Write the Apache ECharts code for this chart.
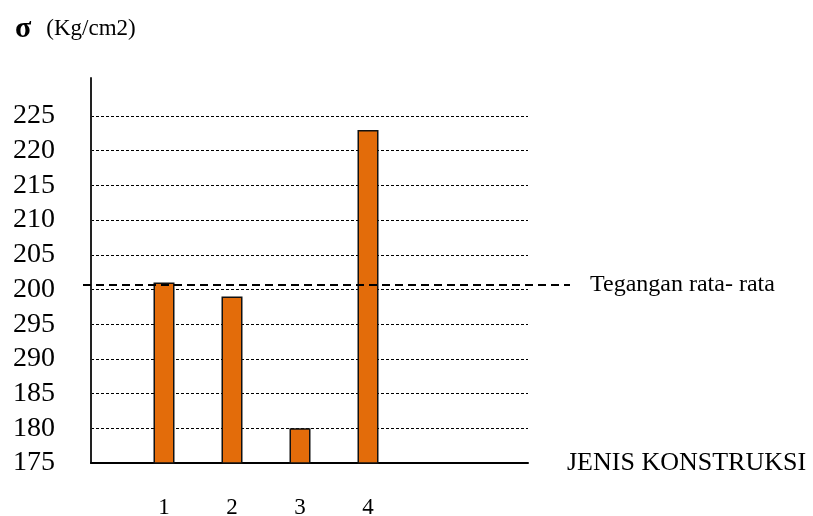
<!DOCTYPE html>
<html>
<head>
<meta charset="utf-8">
<script src="https://cdn.jsdelivr.net/npm/echarts@6/dist/echarts.min.js"></script>
<style>
html,body{margin:0;padding:0;background:#fff;}
#chart{width:813px;height:516px;}
</style>
</head>
<body>
<div id="chart"></div>
<script>
// ---- data ----
const categories = ['1', '2', '3', '4'];
const values = [201, 199, 180, 223];
const tickLabels = ['175', '180', '185', '290', '295', '200', '205', '210', '215', '220', '225'];
const yMin = 175, yMax = 225, yStep = 5;
const avgLabel = 'Tegangan rata- rata';
const xName = 'JENIS KONSTRUKSI';
const unitTitle = '(Kg/cm2)';

const avg = values.reduce((a, b) => a + b, 0) / values.length;

const serif = "'Liberation Serif', 'Times New Roman', serif";
const chart = echarts.init(document.getElementById('chart'), null, {renderer: 'canvas'});

const gTop = 116, gH = 347;

chart.setOption({
  backgroundColor: '#fff',
  animation: false,
  title: {
    left: 10, top: 9,
    text: '{s|σ}   {u|' + unitTitle + '}',
    textStyle: {
      fontWeight: 'normal',
      rich: {
        s: {fontFamily: serif, fontSize: 30, color: '#000', fontWeight: 'bold', verticalAlign: 'middle'},
        u: {fontFamily: serif, fontSize: 23, color: '#000', fontWeight: 'normal', verticalAlign: 'middle'}
      }
    }
  },
  grid: [
    {left: 91, top: gTop, width: 437, height: gH, outerBoundsMode: 'none', containLabel: false},
    {left: 91, top: 78, width: 437, height: gTop + gH - 78, outerBoundsMode: 'none', containLabel: false},
    {left: 130, top: gTop, width: 272, height: gH, outerBoundsMode: 'none', containLabel: false},
    {left: 83, top: gTop, width: 487, height: gH, outerBoundsMode: 'none', containLabel: false}
  ],
  xAxis: [
    {gridIndex: 0, type: 'value', min: 0, max: 1,
      axisLine: {show: true, onZero: false, lineStyle: {color: '#000', width: 2}},
      axisTick: {show: false}, axisLabel: {show: false}, splitLine: {show: false},
      name: xName, nameLocation: 'end', nameGap: 39,
      nameTextStyle: {fontFamily: serif, fontSize: 26, color: '#000', verticalAlign: 'middle', padding: [0, 0, 17, 0]}},
    {gridIndex: 1, type: 'value', show: false},
    {gridIndex: 2, type: 'category', data: categories,
      axisLine: {show: false}, axisTick: {show: false},
      axisLabel: {fontFamily: serif, fontSize: 23, color: '#000', margin: 33}},
    {gridIndex: 3, type: 'value', min: 0, max: 1, show: false}
  ],
  yAxis: [
    {gridIndex: 0, type: 'value', min: yMin, max: yMax, interval: yStep,
      axisLine: {show: false}, axisTick: {show: false},
      axisLabel: {fontFamily: serif, fontSize: 28, color: '#000', margin: 36,
        formatter: v => tickLabels[Math.round((v - yMin) / yStep)]},
      splitLine: {show: true, lineStyle: {color: '#000', width: 1, type: [3, 2]}}},
    {gridIndex: 1, type: 'value', min: 0, max: 1,
      axisLine: {show: true, lineStyle: {color: '#222', width: 2}},
      axisTick: {show: false}, axisLabel: {show: false}, splitLine: {show: false}},
    {gridIndex: 2, type: 'value', min: yMin, max: yMax, show: false},
    {gridIndex: 3, type: 'value', min: yMin, max: yMax, show: false}
  ],
  series: [
    {
      type: 'bar', xAxisIndex: 2, yAxisIndex: 2,
      data: values, barWidth: 21,
      itemStyle: {color: '#E36C0A', borderColor: '#111', borderWidth: 1.5}
    },
    {
      type: 'line', xAxisIndex: 3, yAxisIndex: 3, data: [],
      markLine: {
        silent: true, symbol: 'none',
        lineStyle: {color: '#000', width: 1.8, type: [8, 5]},
        label: {show: true, position: 'end', distance: 20, formatter: avgLabel,
          fontFamily: serif, fontSize: 24, color: '#000'},
        data: [{yAxis: avg}]
      }
    }
  ]
});
</script>
</body>
</html>
